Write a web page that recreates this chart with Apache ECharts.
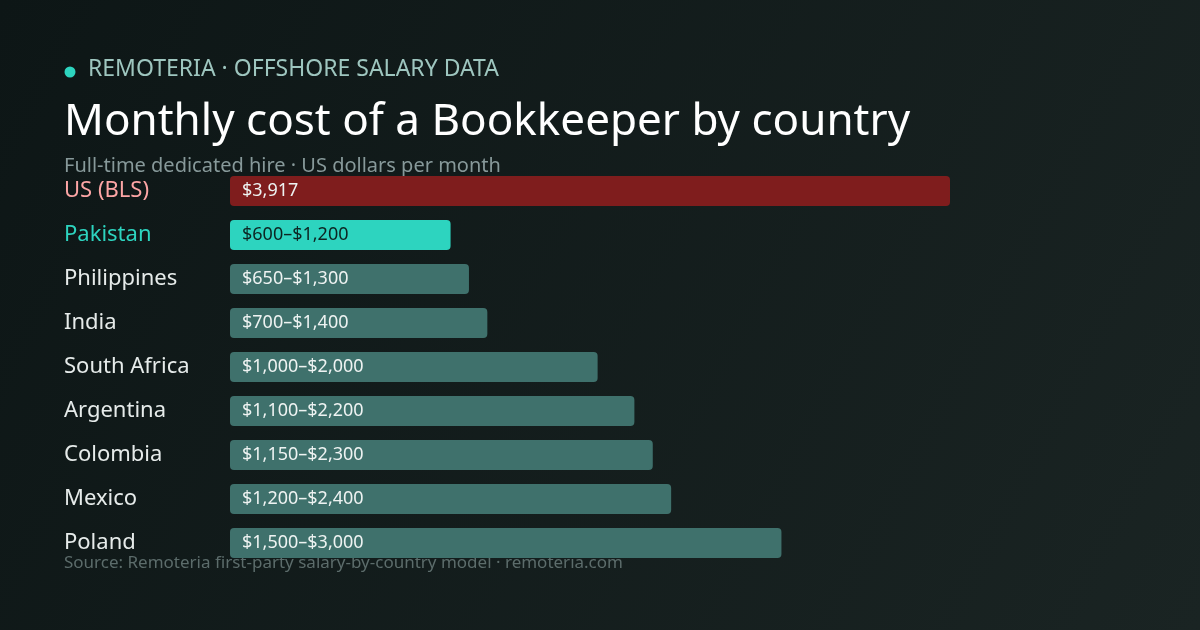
<!DOCTYPE html>
<html>
  <head>
    <meta charset="utf-8" />
    <script src="https://cdn.jsdelivr.net/npm/echarts@6/dist/echarts.min.js"></script>
    <style>
      body { margin: 0; background: #0f1819; }
    </style>
  </head>
  <body>
    <div id="main" style="width: 1200px; height: 630px"></div>
    <script>
      var countries = ["US (BLS)", "Pakistan", "Philippines", "India", "South Africa", "Argentina", "Colombia", "Mexico", "Poland"];
      var highValues = [3917, 1200, 1300, 1400, 2000, 2200, 2300, 2400, 3000];
      var rangeLabels = ["$3,917", "$600–$1,200", "$650–$1,300", "$700–$1,400", "$1,000–$2,000", "$1,100–$2,200", "$1,150–$2,300", "$1,200–$2,400", "$1,500–$3,000"];

      function barColor(i) {
        if (i === 0) return "#7f1d1d";
        if (i === 1) return "#2dd4bf";
        return "#3f716c";
      }
      function nameColor(i) {
        if (i === 0) return "#fca5a5";
        if (i === 1) return "#2dd4bf";
        return "#e6ebea";
      }

      var chart = echarts.init(document.getElementById("main"));
      chart.setOption({
        backgroundColor: {
          type: "linear", x: 0, y: 0, x2: 1, y2: 1,
          colorStops: [{ offset: 0, color: "#0d1616" }, { offset: 1, color: "#1a2423" }]
        },
        textStyle: { fontFamily: "Noto Sans" },
        graphic: [
          { type: "circle", shape: { cx: 70, cy: 72, r: 5.5 }, style: { fill: "#2dd4bf" } },
          { type: "text", left: 88, top: 58, style: { text: "REMOTERIA · OFFSHORE SALARY DATA", fill: "#9ec6bf", font: "23px 'Noto Sans'" } },
          { type: "text", left: 64, top: 100, style: { text: "Monthly cost of a Bookkeeper by country", fill: "#ffffff", font: "44px 'Noto Sans'" } },
          { type: "text", left: 64, top: 156, style: { text: "Full-time dedicated hire · US dollars per month", fill: "#87999a", font: "20px 'Noto Sans'" } },
          { type: "text", left: 64, top: 555, style: { text: "Source: Remoteria first-party salary-by-country model · remoteria.com", fill: "#5c6c6b", font: "17px 'Noto Sans'" } }
        ],
        grid: { left: 230, top: 169, width: 720, height: 396 },
        xAxis: { type: "value", min: 0, max: 3917, show: false },
        yAxis: {
          type: "category",
          data: countries,
          inverse: true,
          axisLine: { show: false },
          axisTick: { show: false },
          axisLabel: {
            align: "left",
            margin: 166,
            fontSize: 22,
            padding: [4, 0, 0, 0],
            color: function (v, i) { return nameColor(i); }
          }
        },
        series: [{
          type: "bar",
          barWidth: 30,
          data: highValues.map(function (v, i) {
            return {
              value: v,
              itemStyle: { color: barColor(i), borderRadius: 4 },
              label: { color: i === 1 ? "#0d2522" : "#eef3f2" }
            };
          }),
          label: {
            show: true,
            position: "insideLeft",
            distance: 12,
            fontSize: 18,
            formatter: function (p) { return rangeLabels[p.dataIndex]; }
          }
        }]
      });
    </script>
  </body>
</html>
